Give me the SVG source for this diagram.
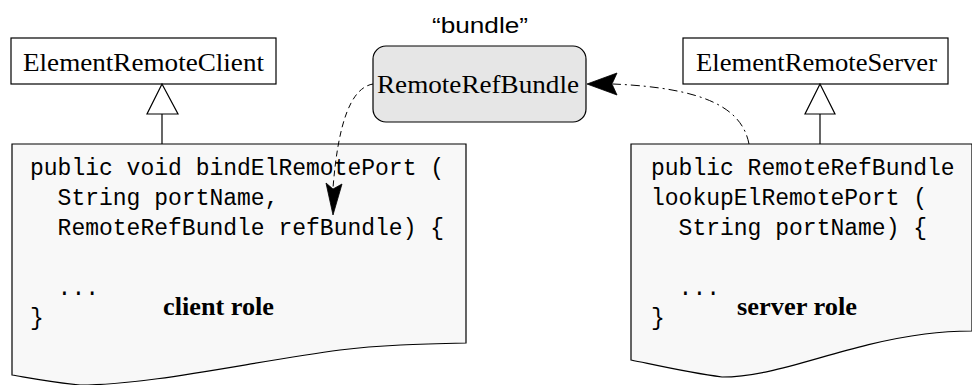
<svg xmlns="http://www.w3.org/2000/svg" width="972" height="385" viewBox="0 0 972 385">
<style>
.box{fill:#fff;stroke:#000;stroke-width:1.2}
.code{fill:#f8f8f8;stroke:#000;stroke-width:1.2}
.bundle{fill:#e6e6e6;stroke:#000;stroke-width:1.2}
.tri{fill:#fff;stroke:#000;stroke-width:1.2}
.ln{fill:none;stroke:#000;stroke-width:1.2}
.serif{font-family:"Liberation Serif","Times New Roman",serif;font-size:26px;fill:#000}
.role{font-family:"Liberation Serif","Times New Roman",serif;font-size:25px;font-weight:bold;fill:#000}
.mono{font-family:"Liberation Mono","Courier New",monospace;font-size:23px;fill:#000;white-space:pre}
.sans{font-family:"Liberation Sans",Arial,sans-serif;font-size:22px;fill:#000}
.dash{fill:none;stroke:#000;stroke-width:1;stroke-dasharray:6 4}
.dashdot{fill:none;stroke:#000;stroke-width:1;stroke-dasharray:9 4 2 4}
.head{fill:#000;stroke:#000;stroke-width:0.8}
</style>
<rect width="972" height="385" fill="#fff"/>
<g id="client-class">
<rect class="box" x="11" y="38" width="265" height="46"/>
<text class="serif" x="23" y="71" textLength="241" lengthAdjust="spacingAndGlyphs">ElementRemoteClient</text>
</g>
<g id="server-class">
<rect class="box" x="683" y="38" width="265" height="46"/>
<text class="serif" x="696" y="71" textLength="241" lengthAdjust="spacingAndGlyphs">ElementRemoteServer</text>
</g>
<g id="bundle">
<text class="sans" x="432" y="33" textLength="96" lengthAdjust="spacingAndGlyphs">“bundle”</text>
<rect class="bundle" x="373" y="46" width="213" height="76" rx="13" ry="13"/>
<text class="serif" x="377" y="93" textLength="202" lengthAdjust="spacingAndGlyphs">RemoteRefBundle</text>
</g>
<g id="client-code">
<path class="code" d="M12,144 L466,144 L466,343 C420,344 380,345 340,350 C250,362 150,385 80,385 C50,382 30,378 12,375 Z"/>
<text class="mono" x="30" y="175">public void bindElRemotePort (</text>
<text class="mono" x="30" y="205">  String portName,</text>
<text class="mono" x="30" y="235">  RemoteRefBundle refBundle) {</text>
<text class="mono" x="30" y="295">  ...</text>
<text class="mono" x="30" y="325">}</text>
<text class="role" x="163" y="315" textLength="111" lengthAdjust="spacingAndGlyphs">client role</text>
</g>
<g id="server-code">
<path class="code" d="M631,144 L972,144 L972,331 C955,331 940,332 925,334 C840,345 780,377 722,377 C690,373 660,366 631,360 Z"/>
<text class="mono" x="651" y="175">public RemoteRefBundle</text>
<text class="mono" x="651" y="205">lookupElRemotePort (</text>
<text class="mono" x="651" y="235">  String portName) {</text>
<text class="mono" x="651" y="295">  ...</text>
<text class="mono" x="651" y="325">}</text>
<text class="role" x="737" y="315" textLength="120" lengthAdjust="spacingAndGlyphs">server role</text>
</g>
<g id="connectors">
<polygon class="tri" points="162,84 147,114 178,114"/>
<line class="ln" x1="162" y1="114" x2="162" y2="144"/>
<polygon class="tri" points="820,84 805,114 835,114"/>
<line class="ln" x1="820" y1="114" x2="820" y2="144"/>
<path class="dash" d="M373,84 C350,88 338,125 333,188"/>
<path class="head" d="M333,215 L326,183 L333,189 L342,184 Z"/>
<path class="dashdot" d="M749,144 C742,108 705,88 613,84"/>
<path class="head" d="M587,84 L617,73 L612,84 L617,95 Z"/>
</g>
</svg>
